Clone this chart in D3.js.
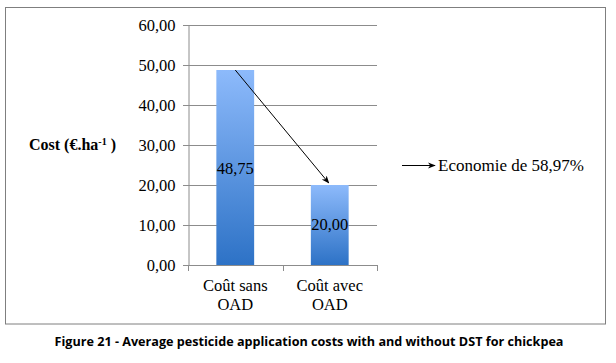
<!DOCTYPE html>
<html>
<head>
<meta charset="utf-8">
<script src="https://cdn.jsdelivr.net/npm/d3@7"></script>
<style>
  body { margin: 0; background: #fff; }
</style>
</head>
<body>
<div id="chart"></div>
<script>
// data
const categories = [["Coût sans", "OAD"], ["Coût avec", "OAD"]];
const costs = [48.75, 20.00];
const yTicks = [0, 10, 20, 30, 40, 50, 60];
const savingLabel = "Economie de 58,97%";
const caption = "Figure 21 - Average pesticide application costs with and without DST for chickpea";

const W = 616, H = 363;
const plot = {left: 188, right: 377, top: 25, bottom: 265};
const serif = "Liberation Serif";

let svg = d3.select("#chart")
    .append("svg")
    .attr("width", W)
    .attr("height", H);

let defs = svg.append("defs");
let grad = defs.append("linearGradient")
    .attr("id", "barGrad")
    .attr("x1", 0).attr("y1", 0).attr("x2", 0).attr("y2", 1);
grad.append("stop").attr("offset", "0%").attr("stop-color", "#8dbafb");
grad.append("stop").attr("offset", "100%").attr("stop-color", "#2d72c6");

defs.append("marker")
    .attr("id", "head")
    .attr("viewBox", "0 0 10 10")
    .attr("refX", 9).attr("refY", 5)
    .attr("markerWidth", 8).attr("markerHeight", 8)
    .attr("orient", "auto")
    .append("path")
    .attr("d", "M0,1 L10,5 L0,9 L3,5 Z")
    .attr("fill", "#000");

// outer frame
svg.append("rect")
    .attr("x", 5.5).attr("y", 7.5)
    .attr("width", 600).attr("height", 316.5)
    .attr("fill", "none")
    .attr("stroke", "#7f7f7f")
    .attr("stroke-width", 1);

let x = d3.scaleBand()
    .domain(d3.range(categories.length))
    .range([plot.left, plot.right])
    .paddingInner(0.6)
    .paddingOuter(0.3);

let y = d3.scaleLinear()
    .domain([0, 60])
    .range([plot.bottom, plot.top]);

// gridlines
svg.append("g")
    .selectAll("line")
    .data(yTicks)
    .enter()
    .append("line")
    .attr("x1", plot.left - 5)
    .attr("x2", plot.right)
    .attr("y1", d => Math.round(y(d)) + 0.5)
    .attr("y2", d => Math.round(y(d)) + 0.5)
    .attr("stroke", "#8c8c8c");

// y axis
let yAxis = svg.append("g")
    .attr("transform", `translate(${plot.left + 0.5},0.5)`)
    .call(d3.axisLeft(y).tickValues(yTicks).tickSize(0).tickPadding(13)
        .tickFormat(d => d3.format(".2f")(d).replace(".", ",")));
yAxis.select(".domain").attr("stroke", "#8c8c8c");
yAxis.selectAll("text")
    .style("font-family", serif)
    .style("font-size", "16.5px")
    .attr("fill", "#000");

// x axis line and ticks
let bandStep = (plot.right - plot.left) / categories.length;
svg.append("line")
    .attr("x1", plot.left).attr("x2", plot.right)
    .attr("y1", plot.bottom + 0.5).attr("y2", plot.bottom + 0.5)
    .attr("stroke", "#8c8c8c");
svg.append("g")
    .selectAll("line")
    .data(d3.range(categories.length + 1))
    .enter()
    .append("line")
    .attr("x1", d => Math.round(plot.left + d * bandStep) + 0.5)
    .attr("x2", d => Math.round(plot.left + d * bandStep) + 0.5)
    .attr("y1", plot.bottom)
    .attr("y2", plot.bottom + 6)
    .attr("stroke", "#8c8c8c");

// bars
svg.append("g")
    .selectAll("rect")
    .data(costs)
    .enter()
    .append("rect")
    .attr("x", (d, i) => x(i))
    .attr("y", d => y(d))
    .attr("width", x.bandwidth())
    .attr("height", d => y(0) - y(d))
    .attr("fill", "url(#barGrad)");

// value labels
const valueY = [168, 224];
svg.append("g")
    .selectAll("text")
    .data(costs)
    .enter()
    .append("text")
    .attr("x", (d, i) => x(i) + x.bandwidth() / 2)
    .attr("y", (d, i) => valueY[i])
    .attr("dy", "0.35em")
    .attr("text-anchor", "middle")
    .style("font-family", serif)
    .style("font-size", "16.5px")
    .text(d => d3.format(".2f")(d).replace(".", ","));

// category labels
let cats = svg.append("g")
    .selectAll("text")
    .data(categories)
    .enter()
    .append("text")
    .attr("x", (d, i) => x(i) + x.bandwidth() / 2)
    .attr("y", 291)
    .attr("text-anchor", "middle")
    .style("font-family", serif)
    .style("font-size", "16.5px");
cats.selectAll("tspan")
    .data(d => d)
    .enter()
    .append("tspan")
    .attr("x", function() { return this.parentNode.getAttribute("x"); })
    .attr("dy", (d, i) => i == 0 ? 0 : 19)
    .text(d => d);

// y axis title
let title = svg.append("text")
    .attr("x", 29)
    .attr("y", 150)
    .style("font-family", serif)
    .style("font-weight", "bold")
    .style("font-size", "16px");
title.append("tspan").text("Cost (€.ha");
title.append("tspan").attr("dy", -5).style("font-size", "10px").text("-1");
title.append("tspan").attr("dy", 5).text(" )");

// arrow between bars
svg.append("line")
    .attr("x1", x(0) + x.bandwidth() / 2)
    .attr("y1", y(costs[0]))
    .attr("x2", x(1) + x.bandwidth() / 2 - 1)
    .attr("y2", y(costs[1]) - 2)
    .attr("stroke", "#000")
    .attr("stroke-width", 1)
    .attr("marker-end", "url(#head)");

// saving annotation
svg.append("line")
    .attr("x1", 402).attr("x2", 435)
    .attr("y1", 165.5).attr("y2", 165.5)
    .attr("stroke", "#000")
    .attr("stroke-width", 1)
    .attr("marker-end", "url(#head)");
svg.append("text")
    .attr("x", 438)
    .attr("y", 165)
    .attr("dy", "0.35em")
    .style("font-family", serif)
    .style("font-size", "17px")
    .text(savingLabel);

// caption
svg.append("text")
    .attr("x", 309)
    .attr("y", 341)
    .attr("dy", "0.35em")
    .attr("text-anchor", "middle")
    .attr("textLength", 509)
    .attr("lengthAdjust", "spacingAndGlyphs")
    .style("font-family", "Open Sans")
    .style("font-weight", "bold")
    .style("font-size", "13px")
    .text(caption);
</script>
</body>
</html>
